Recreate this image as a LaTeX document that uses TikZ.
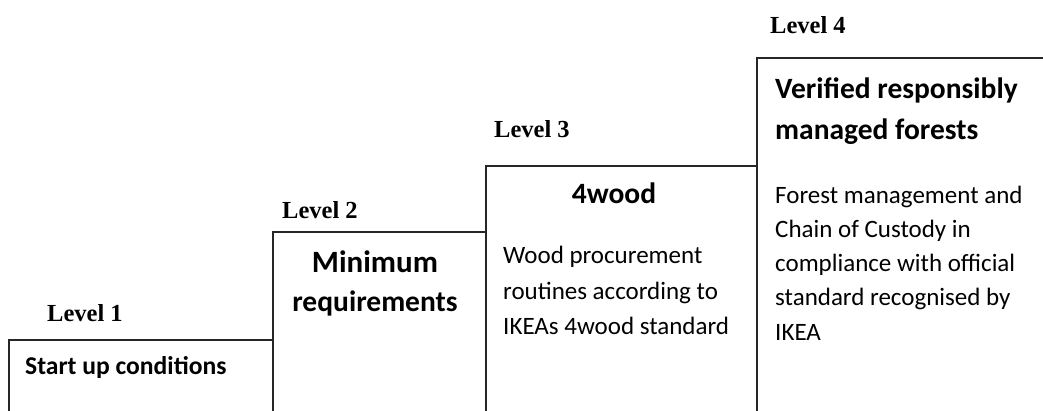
\documentclass[tikz,border=0pt]{standalone}
\usepackage{fontspec}
\setmainfont{Carlito}
\newfontfamily\levelfont{Liberation Serif}
\begin{document}
\begin{tikzpicture}[x=1pt,y=-1pt,
  stepframe/.style={draw=black!85,line width=1.3pt},
  levellabel/.style={anchor=base west,inner sep=0pt,font=\levelfont\bfseries\fontsize{24.5}{28}\selectfont},
  headline/.style={anchor=base,inner sep=0pt,font=\bfseries\fontsize{29.5}{36}\selectfont},
  headleft/.style={anchor=base west,inner sep=0pt,font=\bfseries\fontsize{29.5}{36}\selectfont},
  bodyline/.style={anchor=base west,inner sep=0pt,font=\fontsize{25}{35}\selectfont}]
\useasboundingbox (0,0) rectangle (1043,410);
\clip (0,0) rectangle (1043,410);
% the four steps of the staircase, open towards the bottom
\draw[stepframe] (9,340) rectangle (273,430);
\draw[stepframe] (273,232) rectangle (486,430);
\draw[stepframe] (486,166) rectangle (757,430);
\draw[stepframe] (757,58) rectangle (1070,430);
% level captions above each step
\node[levellabel] (lev1) at (47,321) {Level 1};
\node[levellabel] (lev2) at (282,218) {Level 2};
\node[levellabel] (lev3) at (494,137) {Level 3};
\node[levellabel] (lev4) at (770,33) {Level 4};
% step 1
\node[anchor=base west,inner sep=0pt,font=\bfseries\fontsize{25.6}{35}\selectfont] (s1) at (25,374) {Start up conditions};
% step 2
\node[headline,font=\bfseries\fontsize{31}{36}\selectfont] (s2a) at (375,272) {Minimum};
\node[headline] (s2b) at (375,311) {requirements};
% step 3
\node[headline] (s3a) at (614,203) {4wood};
\node[bodyline] (s3b) at (503,263) {Wood procurement};
\node[bodyline] (s3c) at (503,299) {routines according to};
\node[bodyline] (s3d) at (503,334) {IKEAs 4wood standard};
% step 4
\node[headleft] (s4a) at (775,98) {Verified responsibly};
\node[headleft] (s4b) at (775,139) {managed forests};
\node[bodyline] (s4c) at (775,203) {Forest management and};
\node[bodyline] (s4d) at (775,237) {Chain of Custody in};
\node[bodyline] (s4e) at (775,271) {compliance with official};
\node[bodyline] (s4f) at (775,305) {standard recognised by};
\node[bodyline] (s4g) at (775,340) {IKEA};
\end{tikzpicture}
\end{document}
